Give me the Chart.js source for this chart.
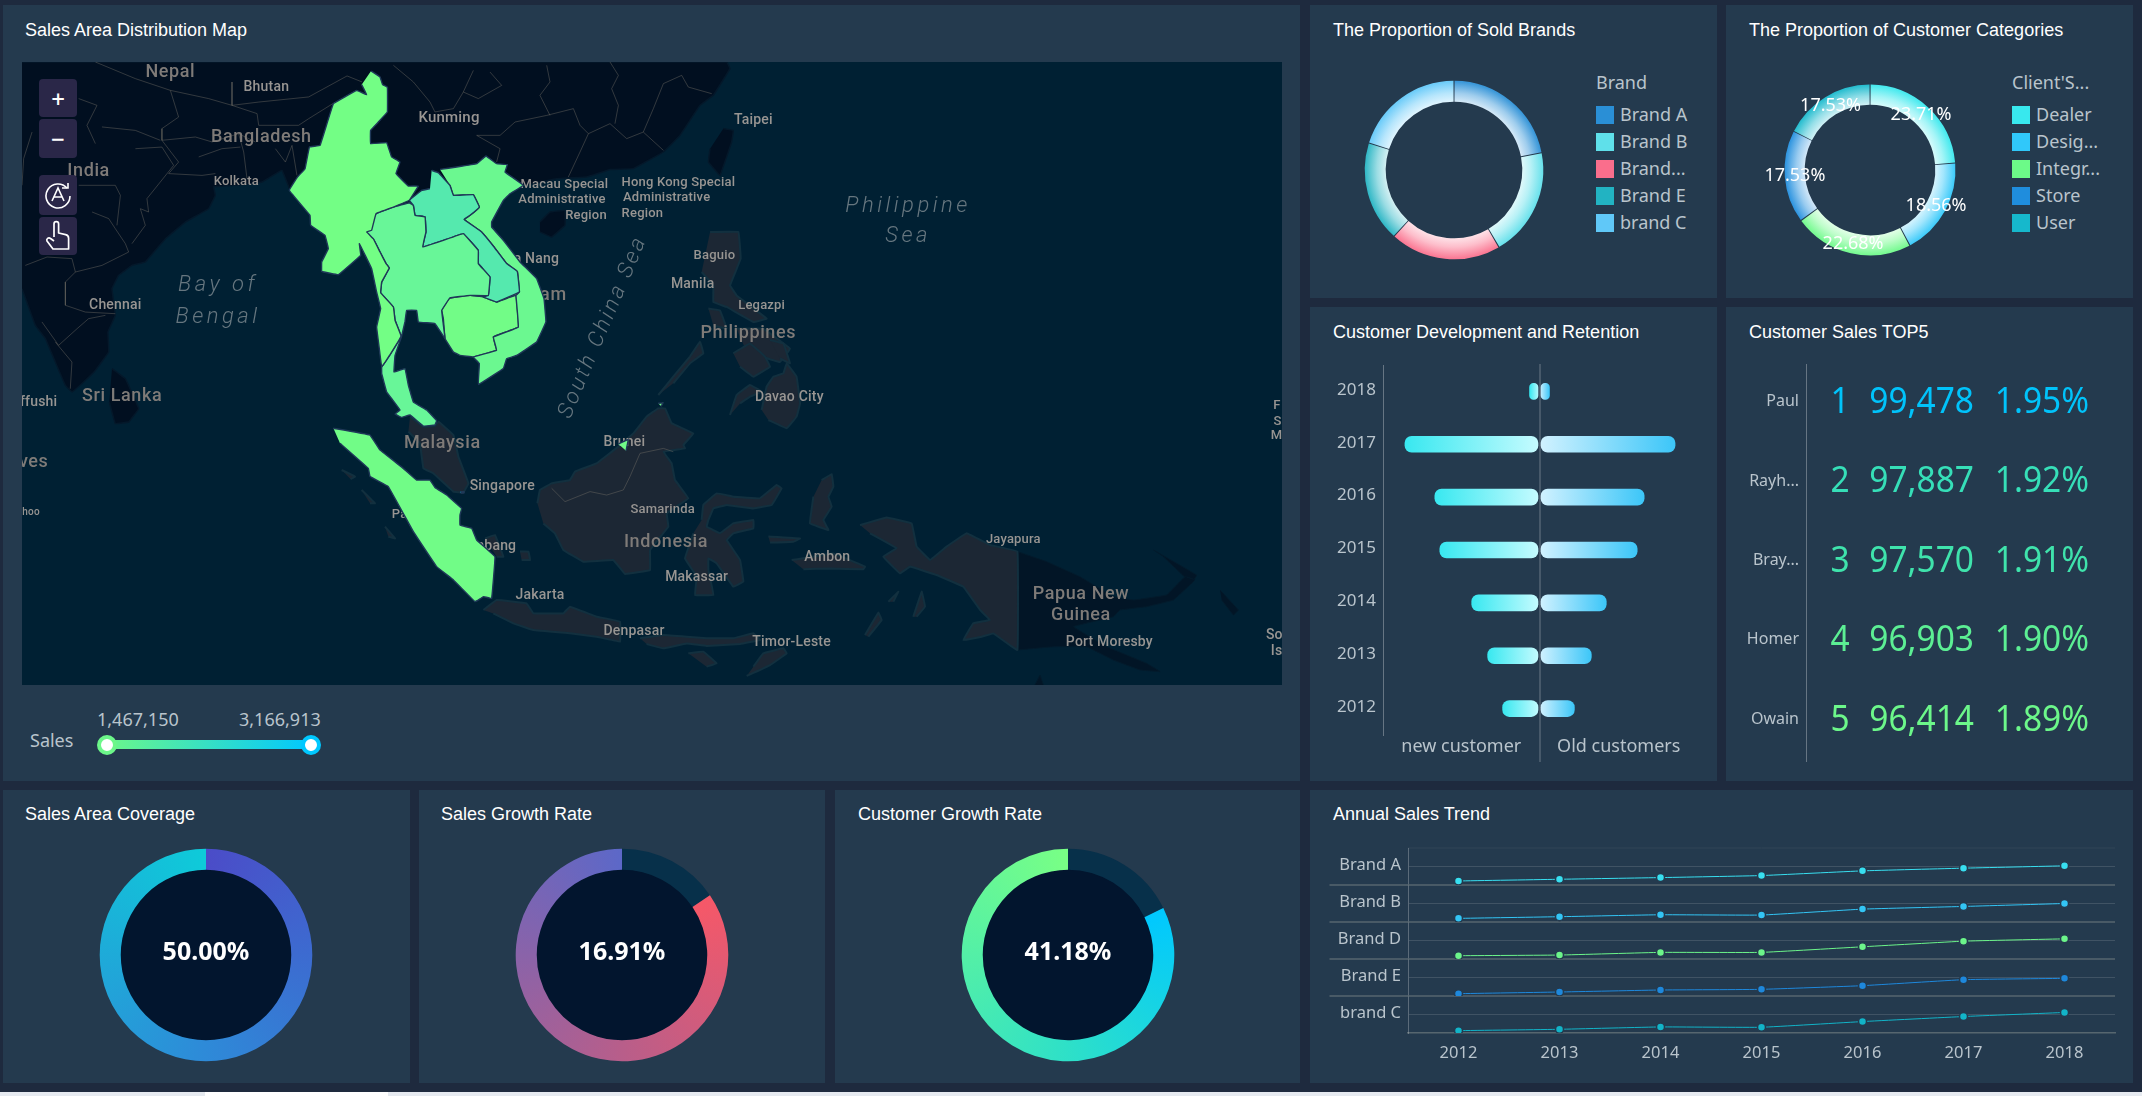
<!DOCTYPE html>
<html><head><meta charset="utf-8"><title>Sales dashboard</title>
<script src="https://cdn.jsdelivr.net/npm/chart.js@4/dist/chart.umd.min.js"></script>
<style>
html,body{margin:0;padding:0;background:#1e2a3e;overflow:hidden;width:2142px;height:1096px;font-family:"Noto Sans",sans-serif}
.p{position:absolute;background:#243a4e}
.t{position:absolute;color:#fff;font:18px "Liberation Sans",Arial,sans-serif;line-height:20px;white-space:nowrap}
canvas{position:absolute;display:block}
.lg{position:absolute;color:#b9c4cc;font-size:18px;line-height:24px;white-space:nowrap}
.sw{position:absolute;width:18px;height:18px}
.btn{position:absolute;left:39px;width:38px;background:#2a2748;border-radius:4px;display:flex;align-items:center;justify-content:center}
</style></head><body>
<div id="root"></div>
<script>
/* ---------- chart values ---------- */
const brandLegend = ['Brand A','Brand B','Brand...','Brand E','brand C'];
const brandShare = [21.9,19.7,20.1,18.2,20.1];
const brandColors = ['#2a8fd6','#5fe0ea','#fa6e8c','#22b3c2','#60c8f8'];
const clientLegend = ['Dealer','Desig...','Integr...','Store','User'];
const clientShare = [23.71,18.56,22.68,17.53,17.53];
const clientColors = ['#38e8ee','#30c8fa','#6cfa88','#1f8ddd','#16b8cc'];
const devYears = ['2018','2017','2016','2015','2014','2013','2012'];
const newCustomers = [10,135,105,100,68,52,37];
const oldCustomers = [10,136,105,98,67,52,35];
const topNames = ['Paul','Rayh...','Bray...','Homer','Owain'];
const topRanks = ['1','2','3','4','5'];
const topSales = [99478,97887,97570,96903,96414];
const topShare = ['1.95%','1.92%','1.91%','1.90%','1.89%'];
const topColors = ['#00c3fb','#36dfb8','#3fe3ac','#5cef94','#6cf78a'];
const gaugeTexts = ['50.00%','16.91%','41.18%'];
const gaugeSplit1 = [50,50];
const gaugeSplit2 = [15.5,84.5];
const gaugeSplit3 = [17.7,82.3];
const trendYears = ['2012','2013','2014','2015','2016','2017','2018'];
const trendBrands = ['Brand A','Brand B','Brand D','Brand E','brand C'];
const trendA = [10.9,15.5,20,25.5,38.2,45.5,51.8];
const trendB = [9.8,14.3,19.6,18.8,34.8,42,50];
const trendD = [8.9,10.7,17.9,17.9,33,48.2,54.5];
const trendE = [6.3,10.8,16.2,18,27.9,44.1,47.7];
const trendC = [6.4,10,16.4,15.5,30.9,44.5,55.5];
const trendColors = ['#38dff0','#33c5f5','#6cf58a','#1e88dc','#12b4c8'];
const salesRange = ['1,467,150','3,166,913'];

/* ---------- map geography, [longitude, latitude] ---------- */
const myanmar=[[98.27,29.4],[98.87,29],[99.04,28.49],[99.36,28.33],[99.36,26.67],[98.76,26],[98.24,25.44],[98.24,24.56],[99.31,24.62],[99.64,23.67],[100.2,23.33],[99.93,22.56],[100.76,21.73],[101.42,21.73],[100.82,20.78],[99.76,20.33],[98.6,19.89],[98.31,18.78],[97.98,18.67],[98.42,18.22],[98.87,17.33],[99.27,16.56],[99.49,16.27],[98.98,15.33],[98.91,14.62],[99.76,13.67],[99.87,12.78],[100.27,11.73],[99.58,10.56],[98.98,9.67],[98.82,10.89],[98.64,12.33],[98.91,13.56],[98.64,14.67],[98.31,16.22],[97.49,17.89],[97.58,17.11],[96.09,15.82],[94.98,16.04],[94.98,16.67],[95.42,17.56],[95.2,18.44],[94.24,19.11],[94.2,19.78],[92.82,21.44],[93.36,22.33],[93.87,22.89],[94.16,24.33],[94.87,24.44],[95.76,27.22],[97.31,28.11],[97.98,27.82],[97.64,28.49]];
const thailand=[[97.98,18.67],[98.6,19.89],[99.76,20.33],[100.82,20.62],[101.09,20.44],[101.2,19.78],[101.87,19.67],[101.93,18.67],[101.71,17.67],[103.09,18.11],[104.42,18.56],[105.42,17.44],[105.42,16.56],[106.2,15.67],[106.09,14.44],[104.87,14.44],[103.53,14.27],[102.98,13.44],[103.2,11.56],[102.53,12.56],[101.42,12.67],[101.31,13.44],[100.64,13.44],[100.53,12.67],[100.31,11.73],[99.87,10.44],[99.8,9.33],[100.53,9.56],[100.76,8.44],[101.09,7.33],[101.98,6.8],[102.64,6.09],[102.53,5.8],[101.76,5.73],[100.87,6.47],[100.31,6.31],[99.87,6.53],[100.2,6.8],[99.71,7.47],[99.31,8],[98.98,9.22],[98.98,9.67],[99.58,10.56],[100.27,11.73],[99.87,12.78],[99.76,13.67],[98.91,14.62],[98.98,15.33],[99.49,16.27],[99.27,16.56],[98.87,17.33],[98.42,18.22]];
const laos=[[102.31,22.78],[102.76,22.62],[103.53,21.78],[103.76,21.11],[105.09,21.16],[105.49,20.33],[104.87,19.78],[104.47,19.51],[105.64,18.67],[106.47,17.67],[107.31,16.56],[108.02,16.04],[108.16,14.67],[106.64,14],[105.76,14.33],[106.09,14.44],[106.2,15.67],[105.42,16.56],[105.42,17.44],[104.42,18.56],[103.09,18.11],[101.71,17.67],[101.93,18.67],[101.87,19.67],[101.2,19.78],[101.09,20.44],[100.82,20.78],[101.64,21.44],[102.2,21.56]];
const vietnam=[[102.87,22.84],[103.98,23],[105.31,23.22],[105.93,23.73],[106.64,23.22],[107.36,23.16],[107.2,22.67],[108.42,21.78],[107.53,21.22],[107.09,20.78],[106.31,19.33],[106.31,19],[107.09,18.11],[108.2,16.67],[109.31,15.56],[109.8,14.22],[109.93,12.67],[109.31,11.33],[107.98,10.44],[107.31,10.22],[107.09,9.56],[105.42,8.49],[105.49,9.89],[105.09,10.33],[106.64,10.78],[106.42,11.67],[108.09,12.33],[107.93,14.44],[108.16,14.67],[108.02,16.04],[107.31,16.56],[106.47,17.67],[105.64,18.67],[104.47,19.51],[104.87,19.78],[105.49,20.33],[105.09,21.16],[103.76,21.11],[103.53,21.78]];
const cambodia=[[103.53,14.27],[104.87,14.44],[105.76,14.33],[106.64,14],[107.93,14.44],[108.09,12.33],[106.42,11.67],[106.64,10.78],[105.09,10.33],[104.2,10.44],[103.76,10.67],[103.2,11.56],[103.09,12.89],[102.98,13.44]];
const sumatra=[[95.76,5.58],[98.2,5.13],[98.87,4.13],[100.42,2.91],[101.31,2.13],[102.2,2.13],[102.53,1.64],[103.31,1.13],[104.31,0.24],[104.2,-0.2],[104.2,-0.87],[104.98,-1.09],[105.31,-1.87],[106.53,-2.98],[106.31,-5.76],[105.76,-5.64],[105.42,-5.87],[105.2,-5.98],[103.76,-4.53],[102.64,-3.64],[101.09,-1.31],[99.42,1.69],[98.2,2.36],[98.09,2.91],[96.2,4.58]];
const brunei=[[114.76,4.53],[115.42,4.84],[115.27,4.09]];
const labuan=[[117.42,7.25],[117.75,7.28],[117.6,7.05]];
const singapore=[[104.24,1.36],[104.47,1.36],[104.47,1.27],[104.24,1.27]];
const mainland=[[75,14.89],[75.89,12.44],[76.56,11.56],[77.22,10],[77.89,8.44],[78.33,8],[79.11,8.67],[79.89,9.44],[80.78,10.67],[80.73,12],[81.22,13.11],[81,14.89],[81.44,15.78],[82.33,16.44],[83.22,16.67],[84.56,18.22],[85.89,19.33],[87.44,20.22],[87.89,21.11],[87.78,21.67],[89.22,21.78],[91,22],[92.33,22.78],[92.89,21.44],[96,18.5],[100,20],[106,22],[108.42,21.78],[109.31,21.96],[110.64,22.22],[112.64,22.33],[114.2,22.84],[115.76,22.89],[117.76,24],[118.87,25.11],[120.2,27.11],[121.09,27.78],[122.2,29.56],[121.98,30],[75,30]];
const taiwan=[[121.76,25.56],[122.42,25.44],[122.31,24.67],[121.53,22.44],[120.76,23.33],[120.87,24.22]];
const hainan=[[109.53,19.33],[110.2,20],[111.2,20.11],[111.2,19.11],[110.31,18.33],[109.53,18.67]];
const sriLanka=[[81,9.56],[81.89,8.89],[82.78,6.89],[82.11,6],[81.22,5.89],[80.82,7.33]];
const papua=[[141.36,-2.64],[143.31,-3.31],[145.53,-4.31],[147.76,-5.64],[149.09,-5.87],[151.31,-5.53],[152.53,-4.31],[153.2,-4.53],[151.76,-5.87],[149.98,-6.31],[148.2,-6.53],[147.76,-6.98],[145.09,-7.64],[147.31,-8.98],[149.98,-10.09],[150.87,-10.64],[149.53,-10.53],[147.76,-9.87],[145.98,-8.98],[143.76,-8.98],[141.36,-9.2]];
const newIreland=[[150.42,-2.53],[153.31,-4.2],[152.98,-4.76],[151.09,-2.98]];
const bougainville=[[154.87,-5.2],[156.09,-6.53],[155.76,-6.87],[154.98,-5.87]];
const capeYork=[[142.53,-11.53],[142.87,-10.87],[143.09,-11.53]];
const malaya=[[100.87,6.36],[101.76,5.69],[102.53,5.73],[102.76,6.02],[103.76,5.13],[104.09,3.69],[104.76,1.91],[104.42,1.29],[103.76,1.36],[102.42,2.58],[101.76,2.91],[101.53,4.58],[100.76,5.36]];
const borneo=[[109.36,0.58],[109.53,1.47],[110.31,1.91],[111.53,2.13],[111.87,2.69],[113.31,3.24],[114.76,4.36],[115.76,5.24],[116.64,6.36],[117.42,6.91],[117.87,6.91],[118.31,5.91],[119.76,5.24],[119.09,4.47],[119.2,4.24],[117.76,4.02],[118.31,3.24],[118.53,2.13],[119.42,0.91],[117.98,-0.09],[118.09,-0.98],[116.87,-2.53],[116.87,-3.87],[115.2,-4.13],[114.42,-3.2],[112.42,-3.31],[111.09,-2.53],[110.53,-1.42],[109.76,-0.76]];
const sulawesi=[[120.31,-0.53],[120.42,0.47],[121.31,1.24],[122.42,1.02],[124.2,0.91],[125.31,1.8],[125.64,1.58],[124.98,0.47],[123.76,0.24],[121.98,0.47],[121.09,0.24],[120.76,-0.53],[120.64,-0.98],[121.53,-1.42],[122.42,-0.76],[123.76,-0.53],[123.76,-1.09],[122.42,-1.42],[121.98,-1.87],[122.87,-3.2],[123.09,-4.64],[122.42,-4.98],[121.31,-3.42],[120.76,-3.09],[120.76,-3.87],[121.09,-5.53],[119.87,-5.53],[119.98,-4.31],[119.2,-3.09],[119.76,-1.42]];
const java=[[105.76,-6.53],[106.64,-5.87],[108.64,-6.09],[109.09,-6.76],[111.09,-6.76],[111.53,-6.31],[113.31,-6.98],[114.87,-7.31],[114.87,-8.64],[113.31,-8.31],[111.53,-8.09],[109.09,-7.87],[107.76,-7.42],[106.42,-6.76]];
const sunda=[[116.2,-8.42],[117.76,-8.2],[119.31,-8.31],[120.64,-8.42],[122.42,-8.42],[123.76,-8.09],[124.2,-8.53],[122.87,-8.8],[120.64,-8.93],[119.31,-8.76],[117.76,-9.09],[116.64,-8.8]];
const timor=[[123.76,-10.31],[124.42,-9.42],[125.76,-9.09],[125.98,-9.42],[124.87,-10.2],[123.31,-10.93]];
const sumba=[[119.42,-9.42],[120.42,-9.31],[121.31,-10.09],[120.64,-10.31]];
const mindanao=[[124.31,6.8],[124.64,8.36],[125.09,9.02],[125.76,9.24],[125.98,9.91],[126.64,9.02],[126.87,7.24],[126.64,6.36],[125.98,5.58],[124.76,6.13]];
const zamboanga=[[122.2,6.47],[122.64,7.8],[123.53,8.47],[124.31,8.02],[123.53,7.69],[122.87,7.24]];
const palawan=[[117.42,7.8],[118.42,9.02],[119.53,10.36],[120.2,11.36],[120.42,10.58],[119.53,9.91],[118.42,8.58]];
const negros=[[122.42,10.58],[123.53,11.24],[124.53,10.36],[124.87,9.69],[123.76,9.02],[122.87,9.69]];
const samar=[[124.87,11.47],[125.76,11.24],[126.2,9.91],[125.53,10.24]];
const luzon=[[120.87,18.67],[122.76,18.67],[122.91,16.89],[122.2,15.11],[122.64,14.44],[124.64,12.89],[123.76,12.67],[121.98,13.67],[121.09,14],[121.09,15.11],[120.31,16]];
const mindoro=[[120.76,13.56],[121.53,13.44],[121.98,12.22],[121.09,12.44]];
const visayas=[[122.64,12.22],[124.42,12.22],[126.2,10.89],[125.53,10],[123.31,10.67]];
const halmahera=[[128.31,2.13],[128.98,2.53],[129.09,1.69],[128.76,1.02],[128.98,0.36],[128.42,-0.53],[128.76,-1.2],[127.53,-0.76],[127.76,1.02]];
const seram=[[126.31,-3.2],[127.09,-3.09],[129.09,-2.76],[131.2,-3.64],[131.09,-3.82],[128.87,-3.76],[127.09,-3.82]];
const sula=[[124.76,-1.64],[126.87,-1.76],[126.42,-1.98],[124.87,-2.04]];
const westPapua=[[130.87,-0.87],[132.64,-0.36],[134.31,-0.76],[134.64,-2.31],[135.53,-3.2],[136.64,-2.31],[137.98,-1.42],[139.53,-2.2],[141.36,-2.64],[141.36,-9.2],[139.76,-8.09],[138.98,-8.31],[137.76,-8.53],[138.42,-7.42],[139.53,-7.2],[138.87,-6.53],[137.76,-4.98],[135.98,-4.2],[134.2,-3.64],[133.53,-4.09],[132.42,-2.98],[133.31,-2.42],[131.53,-1.42]];
const simeulue=[[96.31,2.8],[97.2,2.36],[96.9,2.2]];
const nias=[[97.64,1.47],[98.53,0.58],[98.2,0.58]];
const siberut=[[99.2,-0.98],[99.87,-1.76],[99.42,-1.64]];
const bangka=[[105.87,-1.76],[106.53,-1.53],[107.09,-2.98],[106.64,-2.98]];
const belitung=[[108.2,-2.64],[108.76,-2.64],[108.87,-3.2],[108.31,-3.2]];
const aru=[[134.42,-6.98],[134.98,-5.31],[135.2,-6.31],[134.64,-6.98]];
const kei=[[132.76,-5.98],[133.42,-5.31],[133.09,-5.98]];
const tanimbar=[[131.2,-8.2],[132.09,-6.71],[132.31,-7.2],[131.42,-8.31]];
const borderLines=[
[[79.89,30],[82.56,28.89],[84.89,28.11],[87.44,27.56],[89,27.11],[90.78,27.33],[94.11,27.67],[96.67,29.07],[97.67,28.67]],
[[89,28.67],[89,27.11],[90.67,26.56],[90.78,25.78],[93.44,25.78],[94.11,26.22],[95.89,27.33]],
[[84.33,24.78],[86.56,25],[87.67,24.67],[89.44,25.22],[90.56,24.67]],
[[84.89,28.11],[85.44,26.33],[84.33,25.56],[84.33,24.78],[85.44,23.33],[84.78,22.56],[87,22.44],[87.89,22.56]],
[[82.56,24.22],[84.33,24.33],[85.11,23.11],[83.33,20.89],[83.44,20],[82.89,20.22],[83.22,19.11],[82.33,17.89]],
[[79.67,20],[80.78,19.56],[81.22,18.89],[81.89,17.89],[82.11,17.33],[80.33,16.44],[78.56,16],[77.89,15.33],[77.89,13.78],[79.22,13.33],[81.22,13.22]],
[[78.78,21.78],[81.22,21.78],[81.56,21.11],[81.33,19.11]],
[[75.67,25.33],[75.11,23.56],[75,21.78]],
[[77.22,11.33],[78.33,10],[78.22,8.22]],
[[76.33,12.67],[77.44,11.11],[78.67,12.22],[79.44,12.89],[80.56,13.11]],
[[89.44,25.22],[89.78,24],[90,22.22]],
[[86.78,23.67],[88.33,24.22],[89.56,24.33]],
[[91.89,24.22],[92.56,23.33],[93,24.44],[93.33,22.44]],
[[75.22,16.44],[76.67,17],[78.33,16.89],[78.56,16]],
[[78.78,27.56],[80,27.11],[79.33,25.78],[79.89,24.56]],
[[80.33,25.67],[82.56,25.44],[84.22,24.78]],
[[105.31,25.11],[106.87,25.11],[107.87,26],[109.98,26.44],[111.76,26.89],[112.2,25.78],[112.76,25.22],[114.2,25.89],[115.31,24.89],[116.42,25.33],[117.76,24.11]],
[[112.76,25.22],[112.2,24],[111.42,22.33]],
[[99.76,29.78],[101.09,28.67],[102.2,27.33],[102.53,26.67],[103.76,26.89],[104.42,28],[105.09,29.44]],
[[104.42,28],[105.42,27.56],[106.98,28.44],[106.2,29.33]],
[[109.98,29.78],[110.2,28.67],[109.53,27.78],[110.2,26.44]],
[[114.2,30],[114.76,29.11],[114.31,28.22],[114.76,27.11],[114.53,25.89]],
[[118.98,29.11],[117.76,28.56],[117.09,26.89],[116.42,25.33]],
[[118.98,29.11],[119.42,28.33],[120.98,27.89]],
[[105.31,25.11],[106.87,24.22],[106.64,23.33]],
[[110.31,1.58],[111.2,0.69],[112.87,1.36],[113.98,1.13],[115.09,1.47],[115.53,2.36],[116.2,3.91],[117.76,4.24],[118.42,4.02]]
];
const placeNames=['Nepal','Bhutan','Bangladesh','India','Kolkata','Chennai','Sri Lanka','ffushi','ves','hoo','Kunming','Taipei','Macau Special','Administrative','Region','Hong Kong Special','Administrative','Region','Da Nang','Vietnam','Baguio','Manila','Legazpi','Philippines','Davao City','Malaysia','Singapore','Padang','Palembang','Brunei','Samarinda','Indonesia','Makassar','Jakarta','Denpasar','Timor-Leste','Ambon','Jayapura','Papua New','Guinea','Port Moresby','So','Is','M','F','S'];
const placeLon=[84.89,91.29,90.96,79.44,89.29,81.22,81.67,76.11,75.78,75.6,103.47,123.76,111.16,111,112.6,118.76,117.98,116.36,108.98,108.93,121.16,119.71,124.31,123.42,126.16,103.02,107.02,101.16,105.53,115.16,117.71,117.93,119.98,109.53,115.8,126.31,128.69,141.09,145.6,145.6,147.49,158.49,158.64,158.64,158.67,158.7];
const placeLat=[29.33,28.33,25,22.67,22,13.78,7.71,7.27,3.29,0,26.27,26.11,21.84,20.84,19.78,21.96,20.96,19.89,16.82,14.44,17.11,15.16,13.78,11.89,7.64,4.58,1.73,-0.2,-2.27,4.62,0.13,-2.04,-4.36,-5.58,-7.98,-8.71,-3.02,-1.87,-5.53,-6.93,-8.69,-8.24,-9.27,5.09,7.1,6];
const placeSize=[18,14,18,18,13,14,18,14,18,10,15,14,13,13,13,13,13,13,14,18,13,14,13,18,14,18,14,13,14,14,13,18,14,14,14,14,14,13,18,18,14,14,14,13,13,13];
const seaNames=['Bay of','Bengal','Philippine','Sea','South China Sea'];
const seaLon=[88.07,88.07,134.07,134.07,113.75];
const seaLat=[15.11,13,20.37,18.35,12.33];
const seaTilt=[0,0,0,0,-67];

/* ---------- page frame ---------- */
const root=document.getElementById('root');
function el(cls,css,txt){const d=document.createElement('div');d.className=cls;d.style.cssText=css;if(txt!==undefined)d.textContent=txt;root.appendChild(d);return d;}
function canvas(x,y,w,h){const c=document.createElement('canvas');c.width=w;c.height=h;c.style.cssText=`left:${x}px;top:${y}px;width:${w}px;height:${h}px`;root.appendChild(c);return c;}
[[3,5,1297,776],[1310,5,407,293],[1726,5,407,293],[1310,307,407,474],[1726,307,407,474],[3,790,407,293],[419,790,406,293],[835,790,465,293],[1310,790,823,293]].forEach(r=>el('p',`left:${r[0]}px;top:${r[1]}px;width:${r[2]}px;height:${r[3]}px`));
[['Sales Area Distribution Map',25,20],['The Proportion of Sold Brands',1333,20],['The Proportion of Customer Categories',1749,20],['Customer Development and Retention',1333,322],['Customer Sales TOP5',1749,322],['Sales Area Coverage',25,804],['Sales Growth Rate',441,804],['Customer Growth Rate',858,804],['Annual Sales Trend',1333,804]].forEach(t=>el('t',`left:${t[1]}px;top:${t[2]}px`,t[0]));
el('x','position:absolute;left:0;top:1092px;width:2142px;height:4px;background:#e6eaf0');
el('x','position:absolute;left:205px;top:1092px;width:183px;height:4px;background:#fff');

Chart.defaults.font.family='"Noto Sans",sans-serif';
Chart.defaults.animation=false;
Chart.defaults.responsive=false;
Chart.defaults.plugins.legend.display=false;
Chart.defaults.plugins.tooltip.enabled=false;

/* ---------- map ---------- */
const SEA='#002033';
function toPts(p){return p.map(q=>({x:q[0],y:q[1]}));}
function poly(p,fill,line,w){return {data:toPts(p),fill:'shape',showLine:true,pointRadius:0,tension:0.04,backgroundColor:fill,borderColor:line,borderWidth:w};}
const greens=[[myanmar,'#73fe85'],[thailand,'#68f698'],[laos,'#55e9ae'],[vietnam,'#6bf890'],[cambodia,'#72fc87'],[sumatra,'#71fc87'],[brunei,'#70fb88'],[labuan,'#70fb88'],[singapore,'#00c8ff']];
const mapDatasets=[];
greens.forEach(g=>mapDatasets.push(poly(g[0],g[1],'#1f3858',1.4)));
const greenCount=mapDatasets.length;
borderLines.forEach(b=>mapDatasets.push({data:toPts(b),showLine:true,pointRadius:0,fill:false,borderColor:'rgba(120,115,105,0.42)',borderWidth:1}));
[malaya,borneo,sulawesi,java,sunda,timor,sumba,mindanao,zamboanga,palawan,negros,samar,luzon,mindoro,visayas,halmahera,seram,sula,westPapua,simeulue,nias,siberut,bangka,belitung,aru,kei,tanimbar].forEach(g=>mapDatasets.push(poly(g,'#1c2734','#12303f',2)));
[papua,newIreland,bougainville,capeYork].forEach(g=>mapDatasets.push(poly(g,'#021526','#031b2c',1)));
[mainland,taiwan,hainan,sriLanka].forEach(g=>mapDatasets.push(poly(g,'#010f20','#04182a',1.5)));
const mapLabels={id:'mapLabels',afterDatasetDraw(chart,args){
  if(args.index!==greenCount)return;
  const c=chart.ctx,X=chart.scales.x,Y=chart.scales.y;
  c.save();c.textAlign='center';c.textBaseline='middle';
  placeNames.forEach((n,i)=>{const s=placeSize[i];c.font=`500 ${s}px Roboto`;c.fillStyle=s>=18?'#7f7b78':'#989592';c.letterSpacing=s>=18?'0.6px':'0.2px';c.fillText(n,X.getPixelForValue(placeLon[i]),Y.getPixelForValue(placeLat[i]));});
  c.font='italic 300 22px Roboto';c.fillStyle='#66767f';
  seaNames.forEach((n,i)=>{c.letterSpacing=seaTilt[i]?'2.8px':'3.5px';c.save();c.translate(X.getPixelForValue(seaLon[i]),Y.getPixelForValue(seaLat[i]));c.rotate(seaTilt[i]*Math.PI/180);c.fillText(n,0,0);c.restore();});
  c.restore();
}};
const mapCanvas=canvas(22,62,1260,623);mapCanvas.style.background=SEA;
new Chart(mapCanvas,{type:'line',data:{datasets:mapDatasets},plugins:[mapLabels],options:{layout:{padding:0},elements:{line:{capBezierPoints:false}},
 scales:{x:{type:'linear',display:false,min:75,max:159},y:{type:'linear',display:false,min:-11.533,max:30}}}});

/* map controls */
[[79,38,'+'],[119,39,'\u2212']].forEach(b=>{el('btn',`top:${b[0]}px;height:${b[1]}px;color:#fff;font:500 24px "Noto Sans"`,b[2]);});
const refresh=el('btn','top:175px;height:40px');
refresh.innerHTML='<svg width="30" height="30" viewBox="0 0 30 30" fill="none" stroke="#fff" stroke-width="1.6"><path d="M24 8A12 12 0 1 0 27 16"/><path d="M19 8h6V3"/><path d="M9 21 15 8l6 13M11 17h8"/></svg>';
const hand=el('btn','top:217px;height:38px');
hand.innerHTML='<svg width="26" height="32" viewBox="0 0 26 32" fill="none" stroke="#fff" stroke-width="1.7" stroke-linejoin="round"><path d="M9 17V4a2.3 2.3 0 0 1 4.600 0v9l7 1.600c2 .5 3 1.600 3 3.600V29H8L2 21c-1-2 1.500-4 3.500-2.500L9 21"/></svg>';

/* sales range */
el('lg','left:30px;top:728px','Sales');
el('lg','left:97px;top:707px',salesRange[0]);
el('lg','left:239px;top:707px',salesRange[1]);
el('x','position:absolute;left:106px;top:740px;width:205px;height:9px;background:linear-gradient(90deg,#6cf78a,#00c8ff)');
el('x','position:absolute;left:97px;top:735px;width:12px;height:12px;background:#fff;border:4px solid #6cf78a;border-radius:50%');
el('x','position:absolute;left:301px;top:735px;width:12px;height:12px;background:#fff;border:4px solid #00c8ff;border-radius:50%');

/* ---------- ring helpers ---------- */
function mix(hex,t){const n=parseInt(hex.slice(1),16),r=n>>16,g=n>>8&255,b=n&255;return `rgb(${Math.round(r+(255-r)*t)},${Math.round(g+(255-g)*t)},${Math.round(b+(255-b)*t)})`;}
function ringFill(colors,inner,outer){return ctx=>{const ch=ctx.chart,a=ch.chartArea;if(!a)return colors[ctx.dataIndex];
  const cx=(a.left+a.right)/2,cy=(a.top+a.bottom)/2,g=ch.ctx.createRadialGradient(cx,cy,inner,cx,cy,outer),col=colors[ctx.dataIndex];
  g.addColorStop(0,mix(col,0.82));g.addColorStop(0.45,mix(col,0.55));g.addColorStop(1,mix(col,0.08));return g;};}
function legend(x,title,names,colors){el('lg',`left:${x}px;top:70px`,title);names.forEach((n,i)=>{const y=115+i*26.9;el('sw',`left:${x}px;top:${y-9}px;background:${colors[i]}`);el('lg',`left:${x+24}px;top:${y-13}px`,n);});}
legend(1596,'Brand',brandLegend,brandColors);
legend(2012,"Client'S...",clientLegend,clientColors);

new Chart(canvas(1354,70,200,200),{type:'doughnut',data:{labels:brandLegend,datasets:[{data:brandShare,backgroundColor:ringFill(brandColors,67.5,88.5),borderWidth:0}]},options:{radius:88.5,cutout:'76.3%',spacing:1.5}});
const ringLabels={id:'ringLabels',afterDatasetsDraw(ch){const c=ch.ctx;c.save();c.font='18px "Noto Sans"';c.fillStyle='#fff';c.textAlign='center';c.textBaseline='middle';
  ch.getDatasetMeta(0).data.forEach((arc,i)=>{const p=arc.tooltipPosition();c.fillText(clientShare[i].toFixed(2)+'%',p.x,p.y);});c.restore();}};
new Chart(canvas(1750,60,240,220),{type:'doughnut',data:{labels:clientLegend,datasets:[{data:clientShare,backgroundColor:ringFill(clientColors,64.5,84.7),borderWidth:0}]},plugins:[ringLabels],options:{radius:84.7,cutout:'76.2%',spacing:1.5}});

/* ---------- customer development ---------- */
function barFill(dsValues,sign,outerCol,innerCol){return ctx=>{const ch=ctx.chart;if(!ch.chartArea)return outerCol;const X=ch.scales.x,v=dsValues[ctx.dataIndex]*sign;
  const g=ch.ctx.createLinearGradient(X.getPixelForValue(v),0,X.getPixelForValue(0),0);g.addColorStop(0,outerCol);g.addColorStop(1,innerCol);return g;};}
const centreLine={id:'centreLine',afterDatasetsDraw(ch){const c=ch.ctx,x=ch.scales.x.getPixelForValue(0),a=ch.chartArea;c.save();c.strokeStyle='rgba(255,255,255,0.32)';c.lineWidth=1;c.beginPath();c.moveTo(x+0.5,a.top-1);c.lineTo(x+0.5,a.bottom+27);c.stroke();c.restore();}};
new Chart(canvas(1310,307,407,474),{type:'bar',data:{labels:devYears,datasets:[
  {label:'new customer',data:newCustomers.map(v=>-v),base:-1.5,grouped:false,backgroundColor:barFill(newCustomers,-1,'#38e8f0','#c6fbff'),borderRadius:7,borderSkipped:false,barThickness:16},
  {label:'Old customers',data:oldCustomers,base:1.5,grouped:false,backgroundColor:barFill(oldCustomers,1,'#3cc6f8','#d2f2ff'),borderRadius:7,borderSkipped:false,barThickness:16}]},
 plugins:[centreLine],
 options:{indexAxis:'y',layout:{padding:{top:58,right:21}},
  scales:{x:{min:-157,max:157,grid:{display:false,drawTicks:false},border:{display:false},afterFit:s=>{s.height=46;},afterBuildTicks:s=>{s.ticks=[{value:-78.5},{value:79.5}];},
     ticks:{autoSkip:false,maxRotation:0,padding:1,color:'#b9c4cc',font:{size:18},callback:v=>v<0?'new customer':'Old customers'}},
   y:{grid:{display:false,drawTicks:false},border:{display:true,color:'rgba(255,255,255,0.3)'},afterFit:s=>{s.width=73;},ticks:{padding:7,labelOffset:-1.5,color:'#b9c4cc',font:{size:17}}}}}});

/* ---------- TOP 5 ---------- */
const topText={id:'topText',afterDatasetsDraw(ch){const c=ch.ctx,Y=ch.scales.y,L=ch.canvas.offsetLeft;c.save();c.textBaseline='middle';c.font='36px "Noto Sans"';
  function put(s,x,y,al){c.save();c.translate(x,y);c.scale(0.93,1);c.textAlign=al;c.fillText(s,0,0);c.restore();}
  topNames.forEach((n,i)=>{const y=Y.getPixelForValue(i)-1;c.fillStyle=topColors[i];put(topRanks[i],1840-L,y,'center');put(topSales[i].toLocaleString('en-US'),1974-L,y,'right');put(topShare[i],2089-L,y,'right');});c.restore();}};
new Chart(canvas(1726,307,407,474),{type:'bar',data:{labels:topNames,datasets:[{data:topSales,backgroundColor:'transparent'}]},plugins:[topText],
 options:{indexAxis:'y',layout:{padding:{top:57,bottom:20,right:20}},
  scales:{x:{display:false,min:0,max:100000},y:{grid:{display:false,drawTicks:false},border:{display:true,color:'rgba(255,255,255,0.3)'},afterFit:s=>{s.width=80;},ticks:{padding:7,labelOffset:-2,color:'#b9c4cc',font:{size:16}}}}}});

/* ---------- gauges ---------- */
function conic(stops,darkFirst){return ctx=>{const ch=ctx.chart,a=ch.chartArea;if(!a)return stops[0][1];if(darkFirst&&ctx.dataIndex===0)return '#07304a';
  const g=ch.ctx.createConicGradient(-Math.PI/2,(a.left+a.right)/2,(a.top+a.bottom)/2);stops.forEach(s=>g.addColorStop(s[0],s[1]));return g;};}
function gaugePlugin(text){return {id:'gauge',beforeDatasetsDraw(ch){const c=ch.ctx,a=ch.chartArea;c.save();c.fillStyle='#02152e';c.beginPath();c.arc((a.left+a.right)/2,(a.top+a.bottom)/2,86,0,7);c.fill();c.restore();},
  afterDatasetsDraw(ch){const c=ch.ctx,a=ch.chartArea;c.save();c.font='bold 25px "Noto Sans"';c.fillStyle='#fff';c.textAlign='center';c.textBaseline='middle';c.fillText(text,(a.left+a.right)/2,(a.top+a.bottom)/2-2);c.restore();}};}
function gauge(cx,split,text,bg){new Chart(canvas(cx-108,847,216,216),{type:'doughnut',data:{datasets:[{data:split,backgroundColor:bg,borderWidth:0}]},plugins:[gaugePlugin(text)],options:{radius:106.3,cutout:'80.2%'}});}
gauge(206,gaugeSplit1,gaugeTexts[0],conic([[0,'#4b4cc8'],[0.5,'#2e8ad8'],[1,'#0ecbd9']],false));
gauge(622,gaugeSplit2,gaugeTexts[1],conic([[0.155,'#f65868'],[0.5,'#b85e8a'],[1,'#5c68c8']],true));
gauge(1068,gaugeSplit3,gaugeTexts[2],conic([[0.177,'#00c8ff'],[0.5,'#2ee0c8'],[1,'#79ff85']],true));

/* ---------- annual trend ---------- */
const trendRows=[trendA,trendB,trendD,trendE,trendC];
const rowSeps={id:'rowSeps',beforeDatasetsDraw(ch){const c=ch.ctx,a=ch.chartArea;c.save();c.lineWidth=1.5;c.strokeStyle='#56666f';
  [0,1,2,3].forEach(i=>{const y=Math.round(ch.scales['y'+i].getPixelForValue(0));c.beginPath();c.moveTo(19.5,y);c.lineTo(a.right,y);c.stroke();});
  c.lineWidth=1;c.strokeStyle='rgba(255,255,255,0.06)';c.beginPath();c.moveTo(a.left,a.top);c.lineTo(a.right,a.top);c.stroke();c.restore();}};
const trendScales={x:{type:'category',offset:true,grid:{display:false},border:{display:true,color:'#56666f',width:1.5},afterFit:s=>{s.height=50;},ticks:{padding:2,maxRotation:0,color:'#b9c4cc',font:{size:16.5}}}};
[4,3,2,1,0].forEach(i=>{trendScales['y'+i]={type:'linear',position:'left',stack:'rows',stackWeight:1,min:0,max:100,
  afterBuildTicks:s=>{s.ticks=[{value:50}];},afterFit:s=>{s.width=98;},
  grid:{color:'rgba(255,255,255,0.13)',drawTicks:false},border:{display:true,color:'rgba(255,255,255,0.25)'},
  ticks:{padding:7,labelOffset:-1,autoSkip:false,color:'#b9c4cc',font:{size:16.5},callback:()=>trendBrands[i]}};});
new Chart(canvas(1310,790,823,293),{type:'line',data:{labels:trendYears,datasets:trendRows.map((r,i)=>({label:trendBrands[i],data:r,yAxisID:'y'+i,borderColor:trendColors[i],backgroundColor:trendColors[i],borderWidth:1,tension:0.1,pointRadius:4,pointBorderColor:'#243a4e',pointBorderWidth:1.5}))},
 plugins:[rowSeps],options:{layout:{padding:{top:58,right:18}},scales:trendScales}});
</script>
</body></html>
